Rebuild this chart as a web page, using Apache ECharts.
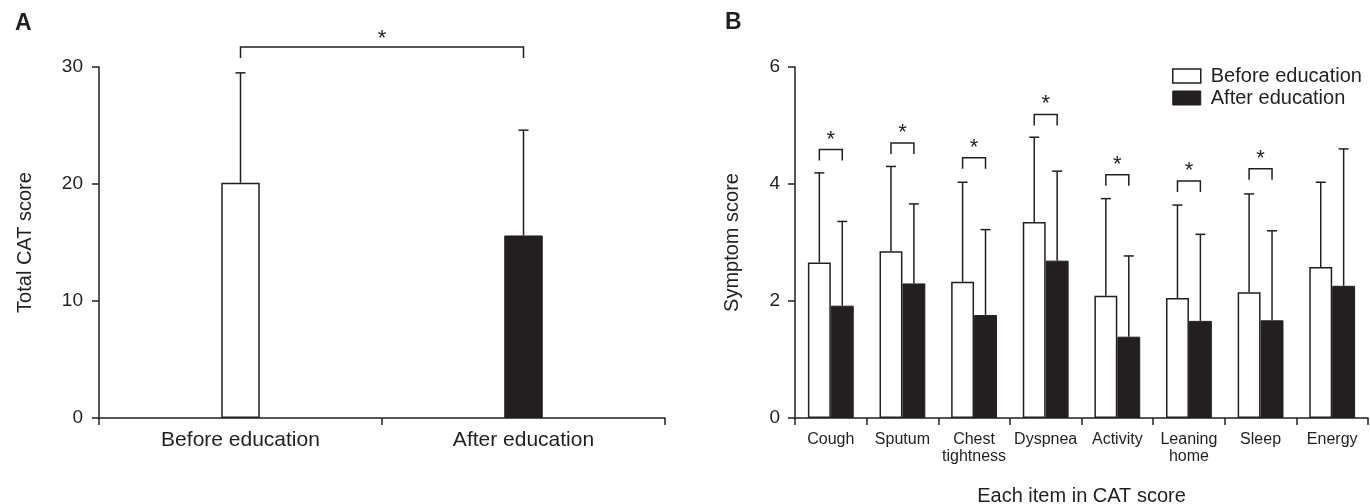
<!DOCTYPE html>
<html>
<head>
<meta charset="utf-8">
<script src="https://cdn.jsdelivr.net/npm/echarts@6/dist/echarts.min.js"></script>
<style>
  html, body { margin: 0; padding: 0; background: #fff; }
  #chart { width: 1370px; height: 504px; }
</style>
</head>
<body>
<div id="chart"></div>
<script>
// ---- Panel A data ----
const totalCategories = ['Before education', 'After education'];
const totalMean = [20.1, 15.6];
const totalUpper = [29.5, 24.6];          // mean + SD
const totalBracket = 31.7;                // significance bracket level

// ---- Panel B data ----
const itemCategories = ['Cough', 'Sputum', 'Chest\ntightness', 'Dyspnea', 'Activity', 'Leaning\nhome', 'Sleep', 'Energy'];
const beforeMean  = [2.66, 2.85, 2.33, 3.35, 2.09, 2.05, 2.15, 2.58];
const beforeUpper = [4.19, 4.30, 4.03, 4.80, 3.75, 3.64, 3.83, 4.03];
const afterMean   = [1.92, 2.30, 1.76, 2.69, 1.39, 1.66, 1.67, 2.26];
const afterUpper  = [3.36, 3.66, 3.22, 4.22, 2.77, 3.14, 3.20, 4.60];
const bracketLevels = [4.59, 4.70, 4.45, 5.19, 4.16, 4.05, 4.26, null];

const yTicksA = { min: 0, max: 30, interval: 10 };
const yTicksB = { min: 0, max: 6, interval: 2 };

const INK = '#231f20';
const FONT = 'Liberation Sans, Arial, Helvetica, sans-serif';

const chart = echarts.init(document.getElementById('chart'), null, { renderer: 'canvas' });

function errorBarItem(x, yTop, yUpper) {
  const cap = 5;
  return {
    type: 'group',
    children: [
      { type: 'line', shape: { x1: x, y1: yTop, x2: x, y2: yUpper }, style: { stroke: INK, lineWidth: 1.5 } },
      { type: 'line', shape: { x1: x - cap, y1: yUpper, x2: x + cap, y2: yUpper }, style: { stroke: INK, lineWidth: 1.5 } }
    ]
  };
}

function makeErrorSeries(gridIdx, meanArr, upperArr, offsetFrac) {
  return {
    type: 'custom',
    xAxisIndex: gridIdx, yAxisIndex: gridIdx,
    clip: false, silent: true, z: 5,
    data: meanArr.map((m, i) => [i, m, upperArr[i]]),
    renderItem: function (params, api) {
      const band = api.size([1, 0])[0];
      const p0 = api.coord([api.value(0), api.value(1)]);
      const p1 = api.coord([api.value(0), api.value(2)]);
      const x = p0[0] + band * offsetFrac;
      return errorBarItem(x, p0[1], p1[1]);
    }
  };
}

function makeBracketSeries(gridIdx, levels, leftFrac, rightFrac, legPx, starOffset) {
  return {
    type: 'custom',
    xAxisIndex: gridIdx, yAxisIndex: gridIdx,
    clip: false, silent: true, z: 6,
    data: levels.map((lv, i) => [i, lv]).filter(d => d[1] !== null),
    renderItem: function (params, api) {
      const band = api.size([1, 0])[0];
      const p = api.coord([api.value(0), api.value(1)]);
      const xl = p[0] + band * leftFrac;
      const xr = p[0] + band * rightFrac;
      const y = p[1];
      return {
        type: 'group',
        children: [
          { type: 'polyline', shape: { points: [[xl, y + legPx], [xl, y], [xr, y], [xr, y + legPx]] },
            style: { stroke: INK, lineWidth: 1.5, fill: null } },
          { type: 'text', x: (xl + xr) / 2, y: y - starOffset,
            style: { text: '*', fill: INK, font: '22px ' + FONT, align: 'center', verticalAlign: 'middle' } }
        ]
      };
    }
  };
}

// Panel A bracket spans between the two category centres
const bracketA = {
  type: 'custom',
  xAxisIndex: 0, yAxisIndex: 0,
  clip: false, silent: true, z: 6,
  data: [[0, totalBracket]],
  renderItem: function (params, api) {
    const pL = api.coord([0, api.value(1)]);
    const pR = api.coord([1, api.value(1)]);
    const y = pL[1];
    return {
      type: 'group',
      children: [
        { type: 'polyline', shape: { points: [[pL[0], y + 11], [pL[0], y], [pR[0], y], [pR[0], y + 11]] },
          style: { stroke: INK, lineWidth: 1.5, fill: null } },
        { type: 'text', x: (pL[0] + pR[0]) / 2, y: y - 8,
          style: { text: '*', fill: INK, font: '22px ' + FONT, align: 'center', verticalAlign: 'middle' } }
      ]
    };
  }
};

const option = {
  animation: false,
  backgroundColor: '#fff',
  textStyle: { fontFamily: FONT, color: INK },
  graphic: [
    { type: 'text', left: 15, top: 12, style: { text: 'A', font: 'bold 23px ' + FONT, fill: INK } },
    { type: 'text', left: 725, top: 11, style: { text: 'B', font: 'bold 23px ' + FONT, fill: INK } }
  ],
  legend: {
    orient: 'vertical',
    left: 1167, top: 61,
    itemWidth: 28, itemHeight: 14,
    itemGap: 2,
    textStyle: { fontSize: 20, color: INK, fontFamily: FONT, padding: [0, 0, 0, 5] },
    data: [
      { name: 'Before education', icon: 'rect', itemStyle: { color: '#fff', borderColor: INK, borderWidth: 1.5 } },
      { name: 'After education', icon: 'rect', itemStyle: { color: INK, borderColor: INK, borderWidth: 1 } }
    ]
  },
  grid: [
    { left: 99, top: 67, width: 566, height: 351, containLabel: false, outerBoundsMode: 'none' },
    { left: 795, top: 67, width: 573, height: 351, containLabel: false, outerBoundsMode: 'none' }
  ],
  xAxis: [
    {
      type: 'category', gridIndex: 0, data: totalCategories,
      axisLine: { lineStyle: { color: INK, width: 1.5 } },
      axisTick: { show: true, length: 7, lineStyle: { color: INK, width: 1.5 } },
      axisLabel: { color: INK, fontSize: 21, margin: 12, fontFamily: FONT }
    },
    {
      type: 'category', gridIndex: 1, data: itemCategories,
      name: 'Each item in CAT score', nameLocation: 'middle', nameGap: 68,
      nameTextStyle: { fontSize: 20, color: INK, fontFamily: FONT },
      axisLine: { lineStyle: { color: INK, width: 1.5 } },
      axisTick: { show: true, length: 7, lineStyle: { color: INK, width: 1.5 } },
      axisLabel: { color: INK, fontSize: 16, lineHeight: 17, margin: 13, interval: 0, fontFamily: FONT }
    }
  ],
  yAxis: [
    {
      type: 'value', gridIndex: 0, min: yTicksA.min, max: yTicksA.max, interval: yTicksA.interval,
      name: 'Total CAT score', nameLocation: 'middle', nameGap: 64, nameRotate: 90,
      nameTextStyle: { fontSize: 20, color: INK, fontFamily: FONT },
      axisLine: { show: true, lineStyle: { color: INK, width: 1.5 } },
      axisTick: { show: true, length: 7, lineStyle: { color: INK, width: 1.5 } },
      axisLabel: { color: INK, fontSize: 19, margin: 16, fontFamily: FONT },
      splitLine: { show: false }
    },
    {
      type: 'value', gridIndex: 1, min: yTicksB.min, max: yTicksB.max, interval: yTicksB.interval,
      name: 'Symptom score', nameLocation: 'middle', nameGap: 53, nameRotate: 90,
      nameTextStyle: { fontSize: 20, color: INK, fontFamily: FONT },
      axisLine: { show: true, lineStyle: { color: INK, width: 1.5 } },
      axisTick: { show: true, length: 7, lineStyle: { color: INK, width: 1.5 } },
      axisLabel: { color: INK, fontSize: 19, margin: 15, fontFamily: FONT },
      splitLine: { show: false }
    }
  ],
  series: [
    {
      name: 'Total', type: 'bar', xAxisIndex: 0, yAxisIndex: 0,
      barWidth: '13.6%',
      data: totalMean.map((v, i) => ({
        value: v,
        itemStyle: i === 0 ? { color: '#fff', borderColor: INK, borderWidth: 1.5 }
                           : { color: INK, borderColor: INK, borderWidth: 1 }
      }))
    },
    makeErrorSeries(0, totalMean, totalUpper, 0),
    bracketA,
    {
      name: 'Before education', type: 'bar', xAxisIndex: 1, yAxisIndex: 1,
      barGap: '0%', barCategoryGap: '36%',
      itemStyle: { color: '#fff', borderColor: INK, borderWidth: 1.5 },
      data: beforeMean
    },
    {
      name: 'After education', type: 'bar', xAxisIndex: 1, yAxisIndex: 1,
      barGap: '0%', barCategoryGap: '36%',
      itemStyle: { color: INK, borderColor: INK, borderWidth: 1 },
      data: afterMean
    },
    makeErrorSeries(1, beforeMean, beforeUpper, -0.16),
    makeErrorSeries(1, afterMean, afterUpper, 0.16),
    makeBracketSeries(1, bracketLevels, -0.16, 0.16, 11, 10)
  ]
};

chart.setOption(option);
</script>
</body>
</html>
